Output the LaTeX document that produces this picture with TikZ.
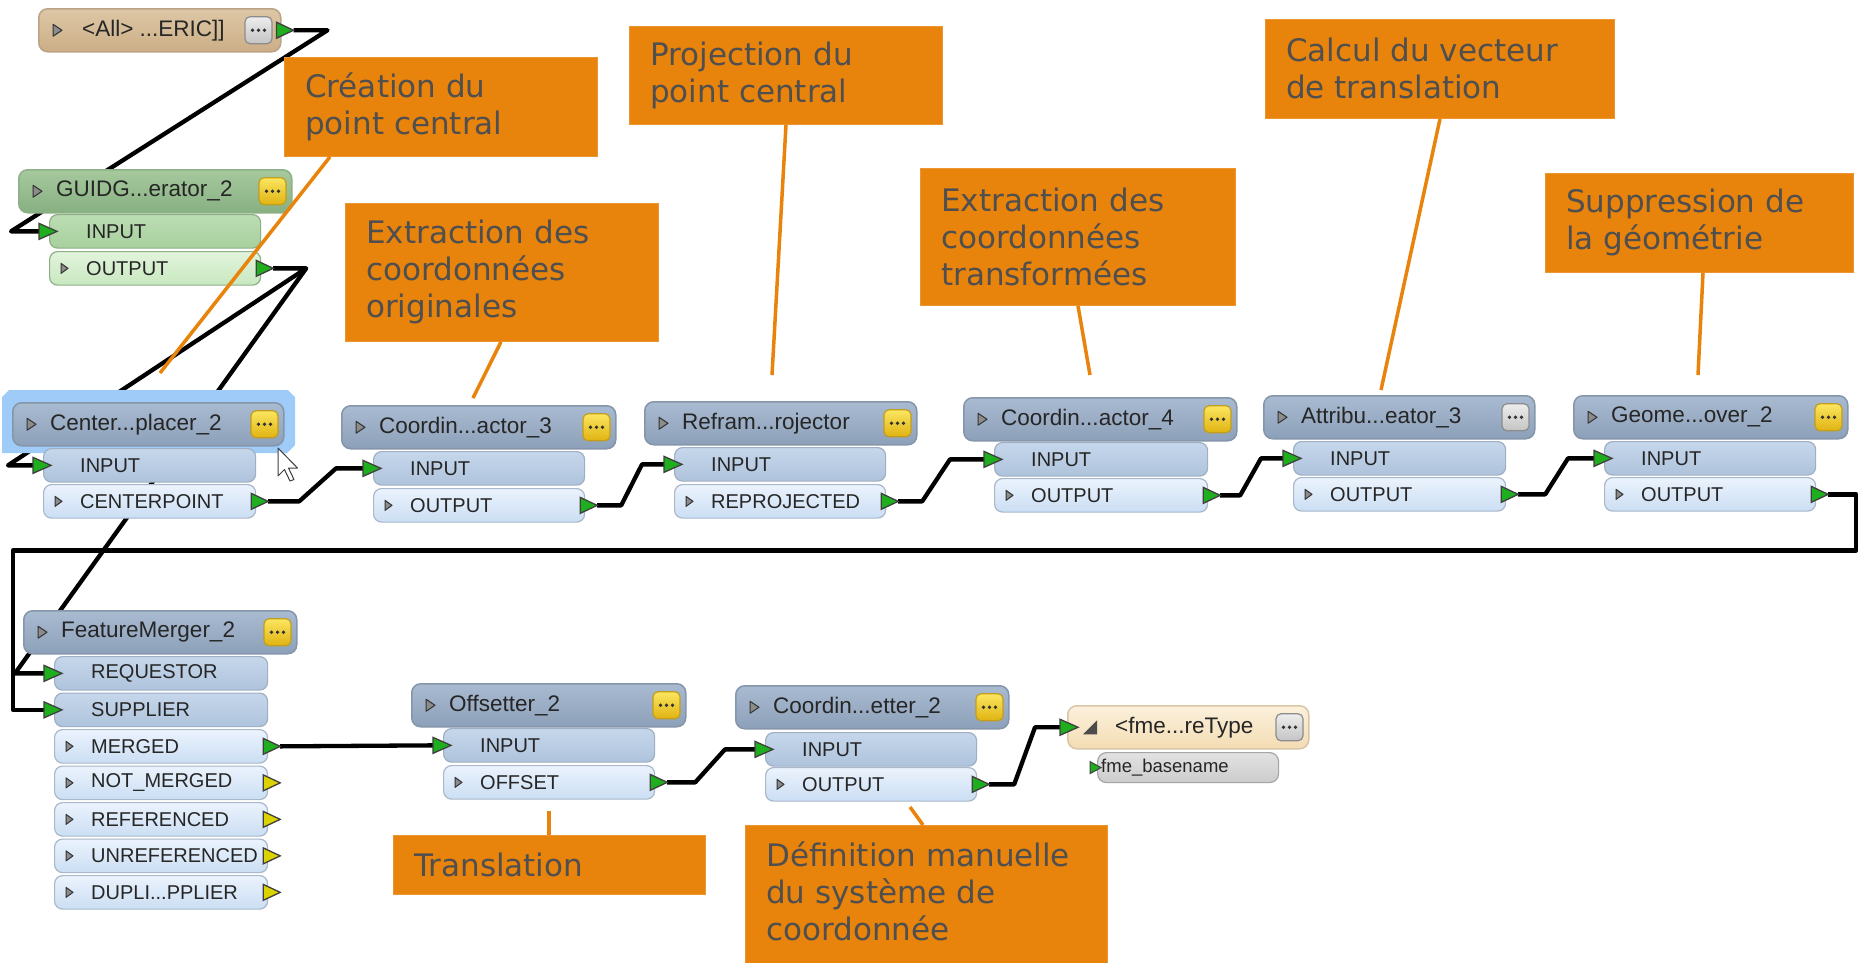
\documentclass[tikz,border=0pt]{standalone}
\usepackage{fontspec}
\setmainfont{DejaVu Sans}
\newfontfamily\fmefont{Liberation Sans}
\usetikzlibrary{calc}
\pgfdeclarelayer{back}
\pgfdeclarelayer{bg}
\pgfsetlayers{back,bg,main}
\definecolor{orng}{HTML}{E8830C}
\definecolor{notetxt}{HTML}{4F4F4F}
\definecolor{hdrT}{HTML}{A9BBD1}
\definecolor{hdrBo}{HTML}{8CA0B9}
\definecolor{hdrD}{HTML}{8595AA}
\definecolor{inT}{HTML}{C6D7EB}
\definecolor{inB}{HTML}{AEC3DC}
\definecolor{inD}{HTML}{9FB0C4}
\definecolor{outT}{HTML}{EBF3FD}
\definecolor{outB}{HTML}{CBDEF3}
\definecolor{outD}{HTML}{A9B8CA}
\definecolor{gT}{HTML}{A6C99E}
\definecolor{gB}{HTML}{87B081}
\definecolor{gD}{HTML}{8DB087}
\definecolor{giT}{HTML}{BCDDB3}
\definecolor{giB}{HTML}{A7D09D}
\definecolor{goT}{HTML}{E2F4DC}
\definecolor{goB}{HTML}{C8E8BF}
\definecolor{tT}{HTML}{DEC7A6}
\definecolor{tB}{HTML}{CBAE86}
\definecolor{tD}{HTML}{BBA486}
\definecolor{wT}{HTML}{FCF1DD}
\definecolor{wB}{HTML}{F3DCB3}
\definecolor{wD}{HTML}{D8C6A6}
\definecolor{wrT}{HTML}{E2E2E2}
\definecolor{wrB}{HTML}{CCCCCC}
\definecolor{ybT}{HTML}{FCE660}
\definecolor{ybB}{HTML}{E0B312}
\definecolor{ybD}{HTML}{C29E1C}
\definecolor{gbT}{HTML}{EDEDED}
\definecolor{gbB}{HTML}{C4C4C4}
\definecolor{portg}{HTML}{1EAE1E}
\definecolor{porty}{HTML}{DCD200}
\definecolor{selc}{HTML}{9FCBF8}
\tikzset{
 x=1pt, y=-1pt,
 hdr/.style={anchor=north west, rounded corners=9pt, minimum height=43pt, inner sep=0pt, line width=1.5pt},
 bluehdr/.style={draw=hdrD, top color=hdrT, bottom color=hdrBo},
 greenhdr/.style={draw=gD, top color=gT, bottom color=gB},
 tanhdr/.style={draw=tD, top color=tT, bottom color=tB},
 whdr/.style={draw=wD, top color=wT, bottom color=wB},
 row/.style={anchor=north west, rounded corners=8pt, minimum height=33.5pt, inner sep=0pt, line width=1.2pt},
 inrow/.style={draw=inD, top color=inT, bottom color=inB},
 outrow/.style={draw=outD, top color=outT, bottom color=outB},
 ginrow/.style={draw=gD, top color=giT, bottom color=giB},
 goutrow/.style={draw=gD, top color=goT, bottom color=goB},
 wrow/.style={draw=black!35, top color=wrT, bottom color=wrB, minimum height=30pt, rounded corners=9pt},
 htxt/.style={anchor=west, inner sep=0pt, text=black!85, font=\fmefont\fontsize{22.5}{25}\selectfont},
 rtxt/.style={anchor=west, inner sep=0pt, text=black!85, font=\fmefont\fontsize{20}{22}\selectfont},
 btn/.style={rounded corners=5pt, minimum width=27pt, minimum height=27pt, inner sep=0pt, line width=1.2pt},
 ybtn/.style={draw=ybD, top color=ybT, bottom color=ybB},
 gbtn/.style={draw=black!45, top color=gbT, bottom color=gbB},
 icon/.style={draw=black!80, fill=black!45, line width=1pt, line join=round},
 port/.style={draw=black!75, line width=1.3pt, line join=miter},
 wire/.style={draw=black, line width=4.3pt, line join=round},
 leader/.style={draw=orng, line width=3.5pt},
 notebox/.style={anchor=north west, fill=orng, draw=orng!85!white, line width=0.8pt, inner sep=0pt},
 notetext/.style={anchor=west, align=left, inner sep=0pt, text=notetxt, font=\fontsize{31}{37}\selectfont},
}
\newcommand\Hdr[6]{%
 \node[hdr,#5,minimum width=#4pt] (#1) at (#2,#3) {};
 \draw[icon] ([xshift=15pt,yshift=6pt]#1.west) -- ++(0pt,-12pt) -- ++(9pt,6pt) -- cycle;
 \node[htxt] (#1-t) at ([xshift=38pt]#1.west) {#6};
}
\newcommand\Btn[3]{%
 \node[btn,#2] (#1-b) at ([xshift=-#3pt]#1.east) {};
 \fill[black!80] ([xshift=-6pt]#1-b.center) circle (1.8pt) (#1-b.center) circle (1.8pt) ([xshift=6pt]#1-b.center) circle (1.8pt);
}
\newcommand\Row[6]{%
 \node[row,#5,minimum width=#4pt] (#1) at (#2,#3) {};
 \node[rtxt] (#1-t) at ([xshift=37pt]#1.west) {#6};
}
\newcommand\OIcon[1]{%
 \draw[icon] ([xshift=12pt,yshift=5pt]#1.west) -- ++(0pt,-10pt) -- ++(7pt,5pt) -- cycle;
}
\newcommand\IPort[3]{%
 \coordinate (#1-p) at ([xshift=-#3pt]#1.west);
 \draw[port,fill=#2] ([yshift=8pt]#1-p) -- ([yshift=-8pt]#1-p) -- ([xshift=18pt]#1-p) -- cycle;
}
\newcommand\OPort[2]{%
 \draw[port,fill=#2] ([xshift=-5pt,yshift=8pt]#1.east) -- ([xshift=-5pt,yshift=-8pt]#1.east) -- ([xshift=12pt]#1.east) -- cycle;
 \coordinate (#1-p) at ([xshift=12pt]#1.east);
}
\begin{document}
\begin{tikzpicture}
\useasboundingbox (0,0) rectangle (1862,962);
\begin{pgfonlayer}{back}
\fill[white] (0,0) rectangle (1862,962);
\end{pgfonlayer}

% ---------- <All> reader ----------
\Hdr{A}{38}{8}{242}{tanhdr}{}
\node[htxt] (A-t2) at ([xshift=44pt]A.west) {<All> ...ERIC]]};
\Btn{A}{gbtn}{23}
\OPort{A}{portg}

% ---------- GUIDGenerator ----------
\Hdr{G}{18}{169}{273}{greenhdr}{GUIDG...erator\_2}
\Btn{G}{ybtn}{20}
\Row{G-i}{49}{214}{211}{ginrow}{INPUT}
\Row{G-o}{49}{251}{211}{goutrow}{OUTPUT}
\OIcon{G-o}
\IPort{G-i}{portg}{10}
\OPort{G-o}{portg}

% ---------- CenterPointReplacer (selected) ----------
\fill[selc] (2,397) -- (9,390) -- (288,390) -- (295,397) -- (295,445) -- (287,453) -- (2,453) -- cycle;
\Hdr{C}{12}{402}{271}{bluehdr}{Center...placer\_2}
\Btn{C}{ybtn}{20}
\Row{C-i}{43}{448}{212}{inrow}{INPUT}
\Row{C-o}{43}{484}{212}{outrow}{CENTERPOINT}
\OIcon{C-o}
\IPort{C-i}{portg}{10}
\OPort{C-o}{portg}
\draw[fill=white, draw=black!75, line width=1pt, line join=round] (278,448) -- (278,476) -- (284.5,469.5) -- (290,481) -- (294,479.5) -- (288.5,468) -- (297.5,468) -- cycle;

% ---------- CoordinateExtractor_3 ----------
\Hdr{D}{341}{405}{274}{bluehdr}{Coordin...actor\_3}
\Btn{D}{ybtn}{20}
\Row{D-i}{373}{451}{211}{inrow}{INPUT}
\Row{D-o}{373}{488}{211}{outrow}{OUTPUT}
\OIcon{D-o}
\IPort{D-i}{portg}{10}
\OPort{D-o}{portg}

% ---------- Reframework Reprojector ----------
\Hdr{R}{644}{401}{272}{bluehdr}{Refram...rojector}
\Btn{R}{ybtn}{20}
\Row{R-i}{674}{447}{211}{inrow}{INPUT}
\Row{R-o}{674}{484}{211}{outrow}{REPROJECTED}
\OIcon{R-o}
\IPort{R-i}{portg}{10}
\OPort{R-o}{portg}

% ---------- CoordinateExtractor_4 ----------
\Hdr{E}{963}{397}{273}{bluehdr}{Coordin...actor\_4}
\Btn{E}{ybtn}{20}
\Row{E-i}{994}{442}{213}{inrow}{INPUT}
\Row{E-o}{994}{478}{213}{outrow}{OUTPUT}
\OIcon{E-o}
\IPort{E-i}{portg}{10}
\OPort{E-o}{portg}

% ---------- AttributeCreator_3 ----------
\Hdr{T}{1263}{395}{271}{bluehdr}{Attribu...eator\_3}
\Btn{T}{gbtn}{20}
\Row{T-i}{1293}{441}{212}{inrow}{INPUT}
\Row{T-o}{1293}{477}{212}{outrow}{OUTPUT}
\OIcon{T-o}
\IPort{T-i}{portg}{10}
\OPort{T-o}{portg}

% ---------- GeometryRemover_2 ----------
\Hdr{M}{1573}{395}{274}{bluehdr}{Geome...over\_2}
\Btn{M}{ybtn}{20}
\Row{M-i}{1604}{441}{211}{inrow}{INPUT}
\Row{M-o}{1604}{477}{211}{outrow}{OUTPUT}
\OIcon{M-o}
\IPort{M-i}{portg}{10}
\OPort{M-o}{portg}

% ---------- FeatureMerger_2 ----------
\Hdr{F}{23}{610}{273}{bluehdr}{FeatureMerger\_2}
\Btn{F}{ybtn}{20}
\Row{F-rq}{54}{656}{213}{inrow}{REQUESTOR}
\Row{F-su}{54}{692.5}{213}{inrow}{SUPPLIER}
\Row{F-me}{54}{729}{213}{outrow}{MERGED}
\Row{F-nm}{54}{765.5}{213}{outrow}{NOT\_MERGED}
\Row{F-rf}{54}{802}{213}{outrow}{REFERENCED}
\Row{F-ur}{54}{838.5}{213}{outrow}{UNREFERENCED}
\Row{F-du}{54}{875}{213}{outrow}{DUPLI...PPLIER}
\OIcon{F-me}\OIcon{F-nm}\OIcon{F-rf}\OIcon{F-ur}\OIcon{F-du}
\IPort{F-rq}{portg}{10}
\IPort{F-su}{portg}{10}
\OPort{F-me}{portg}
\OPort{F-nm}{porty}
\OPort{F-rf}{porty}
\OPort{F-ur}{porty}
\OPort{F-du}{porty}

% ---------- Offsetter_2 ----------
\Hdr{O}{411}{683}{274}{bluehdr}{Offsetter\_2}
\Btn{O}{ybtn}{20}
\Row{O-i}{443}{728}{211}{inrow}{INPUT}
\Row{O-o}{443}{765}{211}{outrow}{OFFSET}
\OIcon{O-o}
\IPort{O-i}{portg}{10}
\OPort{O-o}{portg}

% ---------- CoordinateSystemSetter_2 ----------
\Hdr{S}{735}{685}{273}{bluehdr}{Coordin...etter\_2}
\Btn{S}{ybtn}{20}
\Row{S-i}{765}{732}{211}{inrow}{INPUT}
\Row{S-o}{765}{767}{211}{outrow}{OUTPUT}
\OIcon{S-o}
\IPort{S-i}{portg}{10}
\OPort{S-o}{portg}

% ---------- Writer feature type ----------
\node[hdr,whdr,minimum width=241pt] (W) at (1067,705) {};
\fill[black!70] ([xshift=30pt,yshift=7pt]W.west) -- ([xshift=30pt,yshift=-7pt]W.west) -- ([xshift=16pt,yshift=-7pt]W.west) -- cycle;
\node[htxt] (W-t) at ([xshift=48pt]W.west) {<fme...reType};
\Btn{W}{gbtn}{20}
\IPort{W}{portg}{7}
\node[row,wrow,minimum width=181pt] (Wr) at (1097,752) {};
\node[rtxt,font=\fmefont\fontsize{18.5}{20}\selectfont] (Wr-t) at ([xshift=4pt]Wr.west) {fme\_basename};
\coordinate (Wr-p) at ([xshift=-7pt]Wr.west);
\draw[port,fill=portg,line width=1pt] ([yshift=6pt]Wr-p) -- ([yshift=-6pt]Wr-p) -- ([xshift=11pt]Wr-p) -- cycle;

% ---------- connectors ----------
\begin{pgfonlayer}{bg}
\draw[wire] (A-p) -- ++(34pt,0pt) -- ([xshift=-28pt]G-i-p) -- (G-i-p);
\draw[wire] (G-o-p) -- ++(33pt,0pt) coordinate (gj) -- ([xshift=-25pt]C-i-p) -- (C-i-p);
\draw[wire] (gj) -- ([xshift=-29pt]F-rq-p) -- (F-rq-p);
\draw[wire] (C-o-p) -- ++(31pt,0pt) -- ([xshift=-27pt]D-i-p) -- (D-i-p);
\draw[wire] (D-o-p) -- ++(24pt,0pt) -- ([xshift=-22pt]R-i-p) -- (R-i-p);
\draw[wire] (R-o-p) -- ++(24pt,0pt) -- ([xshift=-34pt]E-i-p) -- (E-i-p);
\draw[wire] (E-o-p) -- ++(20pt,0pt) -- ([xshift=-22pt]T-i-p) -- (T-i-p);
\draw[wire] (T-o-p) -- ++(27pt,0pt) -- ([xshift=-26pt]M-i-p) -- (M-i-p);
\draw[wire] (M-o-p) -- ++(28pt,0pt) -- ++(0pt,-56pt) -| ([xshift=-31pt]F-su-p) -- (F-su-p);
\draw[wire] (F-me-p) -- (O-i-p);
\draw[wire] (O-o-p) -- ++(28pt,0pt) -- ([xshift=-30pt]S-i-p) -- (S-i-p);
\draw[wire] (S-o-p) -- ++(25pt,0pt) -- ([xshift=-25pt]W-p) -- (W-p);
\end{pgfonlayer}

% ---------- annotations ----------
\node[notebox,minimum width=313pt,minimum height=99pt] (n1) at (284,57) {};
\node[notetext] (n1-t) at ([xshift=21pt]n1.west) {Création du\\point central};
\node[notebox,minimum width=313pt,minimum height=138pt] (n2) at (345,203) {};
\node[notetext] (n2-t) at ([xshift=21pt]n2.west) {Extraction des\\coordonnées\\originales};
\node[notebox,minimum width=313pt,minimum height=98pt] (n3) at (629,26) {};
\node[notetext] (n3-t) at ([xshift=21pt]n3.west) {Projection du\\point central};
\node[notebox,minimum width=315pt,minimum height=137pt] (n4) at (920,168) {};
\node[notetext] (n4-t) at ([xshift=21pt]n4.west) {Extraction des\\coordonnées\\transformées};
\node[notebox,minimum width=349pt,minimum height=99pt] (n5) at (1265,19) {};
\node[notetext] (n5-t) at ([xshift=21pt]n5.west) {Calcul du vecteur\\de translation};
\node[notebox,minimum width=308pt,minimum height=99pt] (n6) at (1545,173) {};
\node[notetext] (n6-t) at ([xshift=21pt]n6.west) {Suppression de\\la géométrie};
\node[notebox,minimum width=312pt,minimum height=59pt] (n7) at (393,835) {};
\node[notetext] (n7-t) at ([xshift=21pt]n7.west) {Translation};
\node[notebox,minimum width=362pt,minimum height=140pt] (n8) at (745,825) {};
\node[notetext] (n8-t) at ([xshift=21pt,yshift=4pt]n8.west) {Définition manuelle\\du système de\\coordonnée};

\coordinate (l1) at (160,373);
\coordinate (l2) at (473,398);
\coordinate (l3) at (772,375);
\coordinate (l4) at (1090,375);
\coordinate (l5) at (1381,390);
\coordinate (l6) at (1698,375);
\coordinate (l7) at (549,811);
\coordinate (l8) at (910,807);
\draw[leader] ([xshift=46pt]n1.south west) -- (l1);
\draw[leader] ([xshift=156pt]n2.south west) -- (l2);
\draw[leader] ([xshift=157pt]n3.south west) -- (l3);
\draw[leader] ([xshift=158pt]n4.south west) -- (l4);
\draw[leader] ([xshift=175pt]n5.south west) -- (l5);
\draw[leader] ([xshift=158pt]n6.south west) -- (l6);
\draw[leader] ([xshift=156pt]n7.north west) -- (l7);
\draw[leader] ([xshift=178pt]n8.north west) -- (l8);
\end{tikzpicture}
\end{document}
